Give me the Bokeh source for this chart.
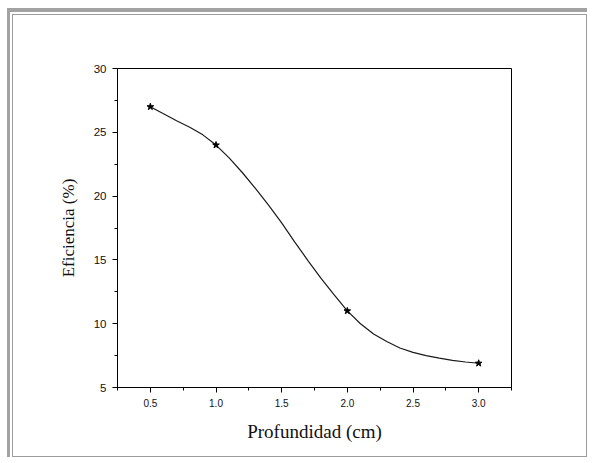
from bokeh.plotting import figure
from bokeh.layouts import column
from bokeh.models import Range1d, FixedTicker
from bokeh.embed import file_html
from bokeh.resources import INLINE

# Measured points
depth = [0.5, 1.0, 2.0, 3.0]
efficiency = [27.0, 24.0, 11.0, 6.9]

# Smooth fitted curve
curve_x = [0.5, 0.6, 0.7, 0.8, 0.9, 1.0, 1.1, 1.2, 1.3, 1.4, 1.5, 1.6, 1.7,
           1.8, 1.9, 2.0, 2.1, 2.2, 2.3, 2.4, 2.5, 2.6, 2.7, 2.8, 2.9, 3.0]
curve_y = [27.0, 26.45, 25.9, 25.4, 24.8, 24.0, 23.0, 21.85, 20.6, 19.3, 17.9, 16.4, 14.95,
           13.55, 12.25, 11.0, 10.0, 9.2, 8.6, 8.1, 7.75, 7.5, 7.3, 7.12, 7.0, 6.9]

x_ticks = [0.5, 1.0, 1.5, 2.0, 2.5, 3.0]
y_ticks = [5, 10, 15, 20, 25, 30]

p = figure(width=575, height=443, output_backend="svg", toolbar_location=None,
           x_range=Range1d(0.25, 3.25), y_range=Range1d(5, 30),
           min_border_left=104, min_border_right=77, min_border_top=53, min_border_bottom=71)
p.styles = {"border": "1px solid #9c9c9c"}

p.grid.visible = False
p.outline_line_color = "black"
p.outline_line_width = 1
p.background_fill_color = "white"
p.border_fill_color = "white"

p.line(curve_x, curve_y, line_color="#1a1a1a", line_width=1.2)
p.scatter(depth, efficiency, marker="star", size=7, fill_color="black", line_color="black")

p.xaxis.ticker = FixedTicker(ticks=x_ticks, minor_ticks=[0.25, 0.75, 1.25, 1.75, 2.25, 2.75, 3.25])
p.yaxis.ticker = FixedTicker(ticks=y_ticks, minor_ticks=[7.5, 12.5, 17.5, 22.5, 27.5])
p.xaxis.major_label_overrides = {0.5: "0.5", 1.0: "1.0", 1.5: "1.5", 2.0: "2.0", 2.5: "2.5", 3.0: "3.0"}

for ax in (p.xaxis, p.yaxis):
    ax.axis_line_color = "black"
    ax.major_tick_line_color = "black"
    ax.minor_tick_line_color = "black"
    ax.major_tick_out = 5
    ax.major_tick_in = 0
    ax.minor_tick_out = 3
    ax.minor_tick_in = 0
    ax.major_label_text_font = "Liberation Sans"
    ax.major_label_text_color = "#111111"
    ax.axis_label_text_font = "Liberation Serif"
    ax.axis_label_text_font_style = "normal"
    ax.axis_label_text_color = "#111111"

p.xaxis.major_label_text_font_size = "10px"
p.yaxis.major_label_text_font_size = "11.5px"
p.xaxis.axis_label = "Profundidad (cm)"
p.yaxis.axis_label = "Eficiencia (%)"
p.xaxis.axis_label_text_font_size = "19px"
p.yaxis.axis_label_text_font_size = "17px"
p.xaxis.major_label_standoff = 6
p.yaxis.major_label_standoff = 6
p.xaxis.axis_label_standoff = 11
p.yaxis.axis_label_standoff = 13

layout = column(p, styles={"margin-left": "7px", "margin-top": "8px",
                           "border-style": "solid", "border-color": "#a2a2a2",
                           "border-width": "4px 0px 0px 3px",
                           "padding": "2px 0px 0px 2px"})

open("out.html", "w").write(file_html(layout, INLINE))
